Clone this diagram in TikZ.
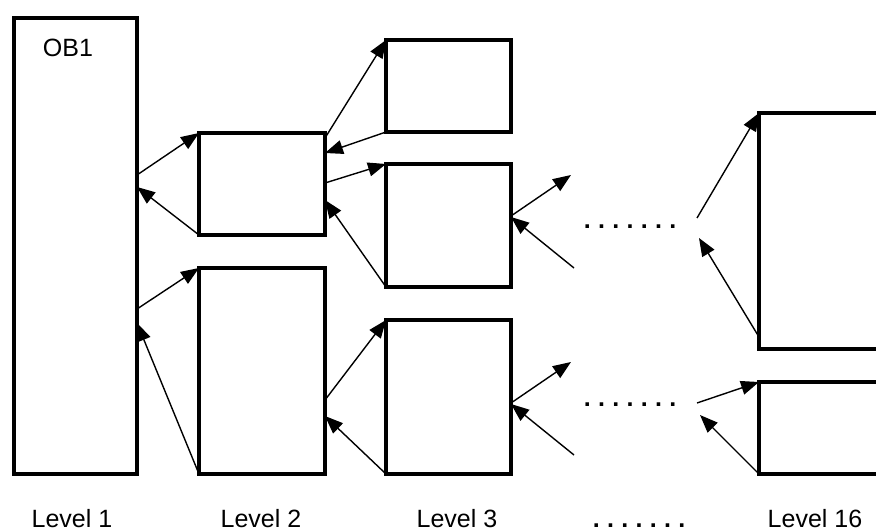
\documentclass[tikz,border=0pt]{standalone}
\usepackage{fontspec}
\setmainfont{Liberation Sans}
\usetikzlibrary{arrows.meta}

\newcommand{\spacedots}{{\bfseries\foreach \i in {1,...,6}{.\hspace{7.3pt}}.}}

\begin{document}
\begin{tikzpicture}[x=1pt,y=-1pt,font=\fontsize{25}{29}\selectfont]
\useasboundingbox (0,0) rectangle (876,532);
\begin{scope}
\clip (0,0) rectangle (876,532);
\begin{scope}[every node/.style={rectangle,draw,line width=4pt,inner sep=0pt,outer sep=0pt,anchor=north west}]
    \node[minimum width=123pt,minimum height=456pt] (ob1) at (14,18) {};
    \node[minimum width=126pt,minimum height=102pt] (l2a) at (199,133) {};
    \node[minimum width=126pt,minimum height=206pt] (l2b) at (199,268) {};
    \node[minimum width=125pt,minimum height=92pt] (l3a) at (386,40) {};
    \node[minimum width=125pt,minimum height=123pt] (l3b) at (386,164) {};
    \node[minimum width=125pt,minimum height=154pt] (l3c) at (386,320) {};
    \node[minimum width=140pt,minimum height=236pt] (l16a) at (759,113) {};
    \node[minimum width=140pt,minimum height=92pt] (l16b) at (759,382) {};
\end{scope}
\end{scope}
\node[anchor=base] (ob1name) at (68,57) {OB1};
% loose ends
\coordinate (o3b) at (571,175);
\coordinate (i3b) at (574,268);
\coordinate (o3c) at (571,362);
\coordinate (i3c) at (574,455);
\coordinate (i16a) at (697,218);
\coordinate (o16a) at (699,238);
\coordinate (i16b) at (697,403);
\coordinate (o16b) at (700,415);
\begin{scope}[>={Triangle[black,length=18pt,width=14pt]},
              call_edge/.style={draw=black,line width=1.4pt}]
    \path [->] ([yshift=-157pt]ob1.north east) edge [call_edge] (l2a.north west);
    \path [->] (l2a.south west) edge [call_edge] ([yshift=-169pt]ob1.north east);
    \path [->] ([yshift=-291pt]ob1.north east) edge [call_edge] (l2b.north west);
    \path [->] (l2b.south west) edge [call_edge] ([yshift=-305pt]ob1.north east);
    \path [->] ([yshift=-5pt]l2a.north east) edge [call_edge] (l3a.north west);
    \path [->] (l3a.south west) edge [call_edge] ([yshift=-20pt]l2a.north east);
    \path [->] ([yshift=-50pt]l2a.north east) edge [call_edge] (l3b.north west);
    \path [->] (l3b.south west) edge [call_edge] ([yshift=-67pt]l2a.north east);
    \path [->] ([yshift=-132pt]l2b.north east) edge [call_edge] (l3c.north west);
    \path [->] (l3c.south west) edge [call_edge] ([yshift=-148pt]l2b.north east);
    \path [->] ([yshift=-52pt]l3b.north east) edge [call_edge] (o3b);
    \path [->] (i3b) edge [call_edge] ([yshift=-53pt]l3b.north east);
    \path [->] ([yshift=-83pt]l3c.north east) edge [call_edge] (o3c);
    \path [->] (i3c) edge [call_edge] ([yshift=-84pt]l3c.north east);
    \path [->] (i16a) edge [call_edge] (l16a.north west);
    \path [->] ([yshift=-224pt]l16a.north west) edge [call_edge] (o16a);
    \path [->] (i16b) edge [call_edge] (l16b.north west);
    \path [->] (l16b.south west) edge [call_edge] (o16b);
\end{scope}
\node[anchor=base] (dotsb) at (630,229) {\spacedots};
\node[anchor=base] (dotsc) at (630,406) {\spacedots};
\begin{scope}[every node/.style={anchor=base}]
    \node (lev1) at (72,527) {Level 1};
    \node (lev2) at (261,527) {Level 2};
    \node (lev3) at (457,527) {Level 3};
    \node (levdots) at (639,527) {\spacedots};
    \node (lev16) at (815,527) {Level 16};
\end{scope}
\end{tikzpicture}
\end{document}
